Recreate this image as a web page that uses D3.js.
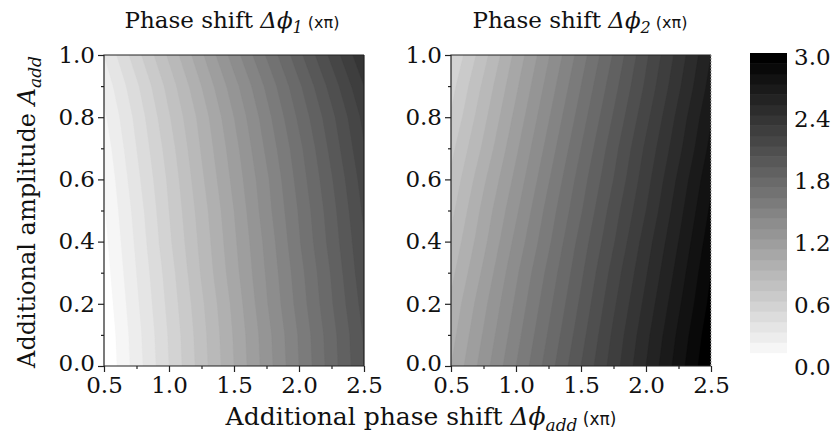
<!DOCTYPE html>
<html><head><meta charset="utf-8">
<script src="https://cdn.jsdelivr.net/npm/d3@7"></script>
<style>body{margin:0;background:#fff}</style>
</head><body><svg id="c" width="832" height="437"></svg>
<script>
// grid columns: additional phase shift (x pi)
const xValues = [0.5, 0.75, 1.0, 1.25, 1.5, 1.75, 2.0, 2.25, 2.5];
// grid rows: additional amplitude, bottom (0) to top (1)
const aValues = [0, 0.1, 0.2, 0.3, 0.4, 0.5, 0.6, 0.7, 0.8, 0.9, 1.0];
// Phase shift Δφ1 (x pi), one row per amplitude
const phi1 = [
  [0.00,0.25,0.50,0.75,1.00,1.25,1.50,1.75,2.00],
  [0.01,0.26,0.51,0.76,1.01,1.26,1.51,1.76,2.01],
  [0.03,0.28,0.53,0.78,1.03,1.29,1.54,1.79,2.04],
  [0.05,0.30,0.55,0.81,1.06,1.31,1.56,1.81,2.07],
  [0.07,0.32,0.58,0.83,1.08,1.33,1.59,1.84,2.09],
  [0.09,0.34,0.60,0.85,1.10,1.36,1.61,1.86,2.12],
  [0.11,0.37,0.62,0.88,1.13,1.38,1.64,1.89,2.15],
  [0.14,0.40,0.65,0.91,1.16,1.42,1.67,1.93,2.19],
  [0.18,0.43,0.69,0.94,1.20,1.46,1.72,1.97,2.23],
  [0.23,0.48,0.74,1.00,1.26,1.52,1.78,2.04,2.30],
  [0.30,0.56,0.82,1.08,1.35,1.61,1.87,2.13,2.39]
];
// Phase shift Δφ2 (x pi)
const phi2 = [
  [1.00,1.25,1.50,1.75,2.00,2.25,2.50,2.75,3.00],
  [0.96,1.21,1.46,1.71,1.96,2.22,2.47,2.72,2.97],
  [0.92,1.17,1.42,1.67,1.92,2.18,2.43,2.68,2.93],
  [0.87,1.12,1.38,1.63,1.88,2.14,2.39,2.64,2.90],
  [0.82,1.07,1.33,1.58,1.84,2.09,2.35,2.60,2.86],
  [0.77,1.03,1.28,1.54,1.79,2.05,2.30,2.56,2.82],
  [0.72,0.98,1.23,1.49,1.75,2.00,2.26,2.52,2.78],
  [0.67,0.92,1.18,1.44,1.70,1.96,2.22,2.47,2.73],
  [0.61,0.87,1.13,1.39,1.65,1.91,2.17,2.43,2.69],
  [0.56,0.82,1.08,1.34,1.60,1.86,2.12,2.38,2.64],
  [0.50,0.76,1.03,1.29,1.55,1.81,2.08,2.34,2.60]
];
const levels = d3.range(0, 30).map(k => +(k * 0.1).toFixed(2)); // 0.0 .. 2.9
const xTicks = [0.5, 1.0, 1.5, 2.0, 2.5];
const xMinor = [0.75, 1.25, 1.75, 2.25];
const yTicks = [0, 0.2, 0.4, 0.6, 0.8, 1.0];
const yMinor = [0.1, 0.3, 0.5, 0.7, 0.9];
const cbTicks = [0, 0.6, 1.2, 1.8, 2.4, 3.0];

const svg = d3.select("#c");
const serif = "DejaVu Serif";
const color = d3.scaleLinear().domain([0, levels.length - 1]).range(["#ffffff", "#000000"]);

const plotTop = 55, plotBottom = 366;
const y = d3.scaleLinear().domain([0, 1]).range([plotBottom, plotTop]);

const panels = [
  {data: phi1, x0: 104, x1: 364, sub: "1", cx: 232},
  {data: phi2, x0: 451, x1: 711, sub: "2", cx: 580}
];

const nx = xValues.length, ny = aValues.length;
const xi = d3.scaleLinear().domain([0, nx - 1]).range([xValues[0], xValues[nx - 1]]);
const yi = d3.scaleLinear().domain([0, ny - 1]).range([aValues[0], aValues[ny - 1]]);

panels.forEach((p, pi) => {
  const x = d3.scaleLinear().domain([0.5, 2.5]).range([p.x0, p.x1]);
  const g = svg.append("g");
  const clipId = "clip" + pi;
  svg.append("clipPath").attr("id", clipId).append("rect")
    .attr("x", p.x0).attr("y", plotTop).attr("width", p.x1 - p.x0).attr("height", plotBottom - plotTop);

  const flat = [];
  p.data.forEach(row => row.forEach(v => flat.push(v)));
  const contours = d3.contours().size([nx, ny]).thresholds(levels)(flat);
  const proj = pt => [x(xi(pt[0] - 0.5)), y(yi(pt[1] - 0.5))];
  const pathFor = mp => mp.coordinates.map(poly => poly.map(ring =>
      "M" + ring.map(pt => proj(pt).join(",")).join("L") + "Z").join("")).join("");
  g.append("g").attr("clip-path", `url(#${clipId})`)
    .selectAll("path").data(contours).join("path")
    .attr("d", pathFor)
    .attr("fill", (d, i) => color(i))
    .attr("stroke", (d, i) => color(i)).attr("stroke-width", 0.3);

  // minor ticks
  g.append("g").attr("transform", `translate(0,${plotBottom})`)
    .call(d3.axisBottom(x).tickValues(xMinor).tickSize(3).tickFormat(""))
    .call(s => s.select(".domain").remove());
  g.append("g").attr("transform", `translate(${p.x0},0)`)
    .call(d3.axisLeft(y).tickValues(yMinor).tickSize(3).tickFormat(""))
    .call(s => s.select(".domain").remove());
  // major ticks
  const xa = g.append("g").attr("transform", `translate(0,${plotBottom})`)
    .call(d3.axisBottom(x).tickValues(xTicks).tickSize(6).tickPadding(5).tickFormat(d3.format(".1f")));
  xa.select(".domain").remove();
  const ya = g.append("g").attr("transform", `translate(${p.x0},0)`)
    .call(d3.axisLeft(y).tickValues(yTicks).tickSize(6).tickPadding(3).tickFormat(d3.format(".1f")));
  ya.select(".domain").remove();
  g.selectAll(".tick text").attr("font-family", serif).attr("font-size", 23).attr("fill", "#111");
  ya.selectAll(".tick text").filter(d => d === 0).attr("dy", "0.2em");
  g.selectAll(".tick line").attr("stroke", "#222").attr("stroke-width", 1.2);

  const frame = g.append("g").attr("fill", "none").attr("stroke", "#222").attr("stroke-width", 1.2);
  frame.append("path").attr("d", `M${p.x1},${plotTop}H${p.x0}V${plotBottom}H${p.x1}`);
  frame.append("line").attr("x1", p.x1).attr("x2", p.x1).attr("y1", plotTop).attr("y2", plotBottom)
    .attr("stroke", pi === 1 ? "#9a9a9a" : "#222")
    .attr("stroke-dasharray", pi === 1 ? "1.5,1.5" : null);

  // title
  const t = svg.append("text").attr("x", p.cx).attr("y", 28).attr("text-anchor", "middle")
    .attr("font-family", serif).attr("font-size", 23).attr("fill", "#111");
  t.append("tspan").text("Phase shift ");
  t.append("tspan").attr("font-style", "italic").text("Δϕ");
  t.append("tspan").attr("font-style", "italic").attr("font-size", 16).attr("dy", 5).text(p.sub);
  t.append("tspan").attr("font-family", "DejaVu Sans").attr("font-size", 16).attr("dy", -5).text(" (xπ)");
});

// colour bar
const cb = d3.scaleLinear().domain([0, 3]).range([363, 53]);
svg.append("g").selectAll("rect").data(levels).join("rect")
  .attr("x", 750).attr("width", 37)
  .attr("y", d => cb(d + 0.1)).attr("height", d => cb(d) - cb(d + 0.1) + 0.5)
  .attr("fill", (d, i) => color(i));
svg.append("g").selectAll("text").data(cbTicks).join("text")
  .attr("x", 794).attr("y", d => cb(d) + 12)
  .attr("font-family", serif).attr("font-size", 23).attr("fill", "#111")
  .text(d3.format(".1f"));

// axis titles
const xl = svg.append("text").attr("x", 421).attr("y", 425).attr("text-anchor", "middle")
  .attr("font-family", serif).attr("font-size", 25).attr("fill", "#111");
xl.append("tspan").text("Additional phase shift ");
xl.append("tspan").attr("font-style", "italic").text("Δϕ");
xl.append("tspan").attr("font-style", "italic").attr("font-size", 17).attr("dy", 6).text("add");
xl.append("tspan").attr("font-family", "DejaVu Sans").attr("font-size", 17).attr("dy", -6).text(" (xπ)");

const yl = svg.append("text").attr("transform", "translate(35,212) rotate(-90)").attr("text-anchor", "middle")
  .attr("font-family", serif).attr("font-size", 24).attr("fill", "#111");
yl.append("tspan").text("Additional amplitude ");
yl.append("tspan").attr("font-style", "italic").text("A");
yl.append("tspan").attr("font-style", "italic").attr("font-size", 17).attr("dy", 6).text("add");
</script></body></html>
